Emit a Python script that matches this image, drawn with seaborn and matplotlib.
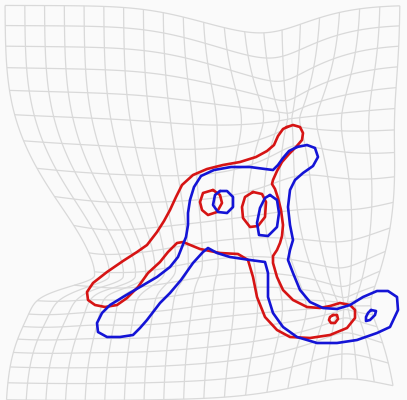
import numpy as np
import pandas as pd
import matplotlib
matplotlib.use("Agg")
import matplotlib.pyplot as plt
import seaborn as sns
from matplotlib.collections import LineCollection

# ---------------- data: contours (image pixel coordinates) ----------------
red_outer_x = [287, 293, 300, 303, 302, 296, 289, 282, 277, 273, 272, 275, 278, 281, 283, 282, 280, 277, 273, 273, 277, 283,
               293, 307, 320, 330, 340, 350, 355, 355, 347, 330, 310, 290, 277, 265, 257, 253, 248, 238, 220, 200, 183, 177,
               168, 160, 148, 138, 127, 117, 105, 95, 88, 87, 93, 107, 123, 137, 147, 157, 164, 170, 176, 182, 193, 207,
               223, 240, 256, 267, 274, 278, 283, 287]
red_outer_y = [127, 125, 127, 133, 140, 147, 154, 162, 171, 180, 184, 189, 198, 210, 225, 236, 243, 250, 256, 263, 277, 290,
               300, 307, 308, 306, 303, 305, 310, 318, 328, 335, 338, 337, 330, 317, 297, 277, 260, 254, 253, 249, 242, 243,
               252, 262, 273, 287, 298, 305, 307, 305, 300, 292, 283, 272, 261, 252, 245, 232, 221, 210, 197, 185, 175, 169,
               165, 162, 157, 151, 145, 136, 129, 127]

blue_outer_x = [297, 307, 315, 318, 313, 303, 295, 290, 288, 290, 293, 290, 288, 293, 300, 310, 323, 337, 350, 363, 377, 388,
                397, 398, 390, 377, 357, 337, 317, 297, 283, 273, 268, 268, 265, 250, 230, 217, 208, 203, 193, 181, 170, 160,
                147, 140, 133, 120, 107, 98, 97, 102, 110, 123, 140, 157, 170, 178, 182, 186, 188, 188, 190, 194, 201, 214,
                231, 250, 265, 273, 278, 283, 289, 297]
blue_outer_y = [147, 145, 148, 157, 166, 173, 180, 190, 207, 225, 240, 250, 260, 273, 290, 302, 308, 309, 305, 297, 291, 291,
                297, 310, 327, 333, 340, 343, 343, 337, 327, 313, 297, 273, 262, 260, 257, 253, 248, 252, 263, 280, 293, 303,
                320, 328, 335, 337, 337, 332, 323, 313, 305, 297, 287, 277, 267, 257, 247, 237, 225, 213, 200, 187, 176, 170,
                167, 167, 169, 170, 165, 158, 151, 147]

red_loop1_x = [213, 220, 222, 217, 208, 202, 200, 203, 213]
red_loop1_y = [190, 195, 203, 212, 215, 210, 202, 193, 190]
blue_loop1_x = [220, 227, 233, 233, 227, 218, 213, 215, 220]
blue_loop1_y = [191, 191, 197, 207, 213, 212, 205, 195, 191]
red_loop2_x = [253, 262, 266, 265, 258, 250, 243, 242, 245, 253]
red_loop2_y = [192, 194, 202, 217, 226, 227, 218, 207, 197, 192]
blue_loop2_x = [270, 277, 279, 277, 268, 259, 257, 260, 265, 270]
blue_loop2_y = [195, 200, 213, 227, 236, 235, 223, 208, 198, 195]
red_dot_x = [333, 337, 338, 335, 331, 329, 330, 333]
red_dot_y = [315, 315, 319, 323, 323, 320, 317, 315]
blue_dot_x = [371, 376, 375, 370, 366, 366, 368, 371]
blue_dot_y = [310, 311, 315, 320, 321, 317, 313, 310]

# ---------------- data: deformation control points for the grid ----------------
grid_n = 21
grid_x0, grid_x1 = 5, 400
grid_y0, grid_y1 = 5, 396
# displacement kernels: centre, displacement, width in x, width above / below the centre
shift_cx = [5, 5, 150, 245]
shift_cy = [225, 225, 210, 5]
shift_dx = [58, 30, 0, 0]
shift_dy = [0, 18, 45, 20]
shift_sx = [85, 95, 170, 55]
shift_sup = [57, 60, 70, 55]
shift_sdown = [14, 70, 85, 55]
# contraction kernels: attractor, strength, width
pull_cx = [235, 290, 345, 92]
pull_cy = [215, 118, 305, 282]
pull_a = [0.2, 0.8, 0.85, 0.3]
pull_sigma = [70, 45, 55, 30]


def warp(px, py):
    qx, qy = px.astype(float).copy(), py.astype(float).copy()
    for cx, cy, dx, dy, sx, su, sd in zip(shift_cx, shift_cy, shift_dx, shift_dy,
                                          shift_sx, shift_sup, shift_sdown):
        sy = np.where(py < cy, su, sd)
        w = np.exp(-(px - cx) ** 2 / (2 * sx * sx) - (py - cy) ** 2 / (2 * sy * sy))
        qx += dx * w
        qy += dy * w
    for cx, cy, a, s in zip(pull_cx, pull_cy, pull_a, pull_sigma):
        w = a * np.exp(-((qx - cx) ** 2 + (qy - cy) ** 2) / (2 * s * s))
        qx = qx + (cx - qx) * w
        qy = qy + (cy - qy) * w
    return qx, qy


sns.set_theme(style="white")
bg = "#fafafa"
fig = plt.figure(figsize=(4.07, 4.0), dpi=100, facecolor=bg)
ax = fig.add_axes([0, 0, 1, 1])
ax.set_facecolor(bg)

t = np.linspace(0, 1, 500)
segs = []
for g in np.linspace(grid_y0, grid_y1, grid_n):
    px = grid_x0 + (grid_x1 - grid_x0) * t
    py = np.full_like(t, g)
    segs.append(np.column_stack(warp(px, py)))
for g in np.linspace(grid_x0, grid_x1, grid_n):
    py = grid_y0 + (grid_y1 - grid_y0) * t
    px = np.full_like(t, g)
    segs.append(np.column_stack(warp(px, py)))
ax.add_collection(LineCollection(segs, colors="#d9d9d9", linewidths=0.9, zorder=1))

red = "#d61414"
blue = "#1414d6"
curves = [
    (red_outer_x, red_outer_y, red), (blue_outer_x, blue_outer_y, blue),
    (red_loop1_x, red_loop1_y, red), (blue_loop1_x, blue_loop1_y, blue),
    (red_loop2_x, red_loop2_y, red), (blue_loop2_x, blue_loop2_y, blue),
    (red_dot_x, red_dot_y, red), (blue_dot_x, blue_dot_y, blue),
]
for cx, cy, col in curves:
    df = pd.DataFrame({"x": cx, "y": cy})
    sns.lineplot(data=df, x="x", y="y", sort=False, estimator=None, color=col,
                 linewidth=1.9, ax=ax, zorder=3, solid_joinstyle="round", solid_capstyle="round")

ax.set_xlim(0, 407)
ax.set_ylim(400, 0)
ax.axis("off")
fig.savefig("out.png", dpi=100, facecolor=bg)
